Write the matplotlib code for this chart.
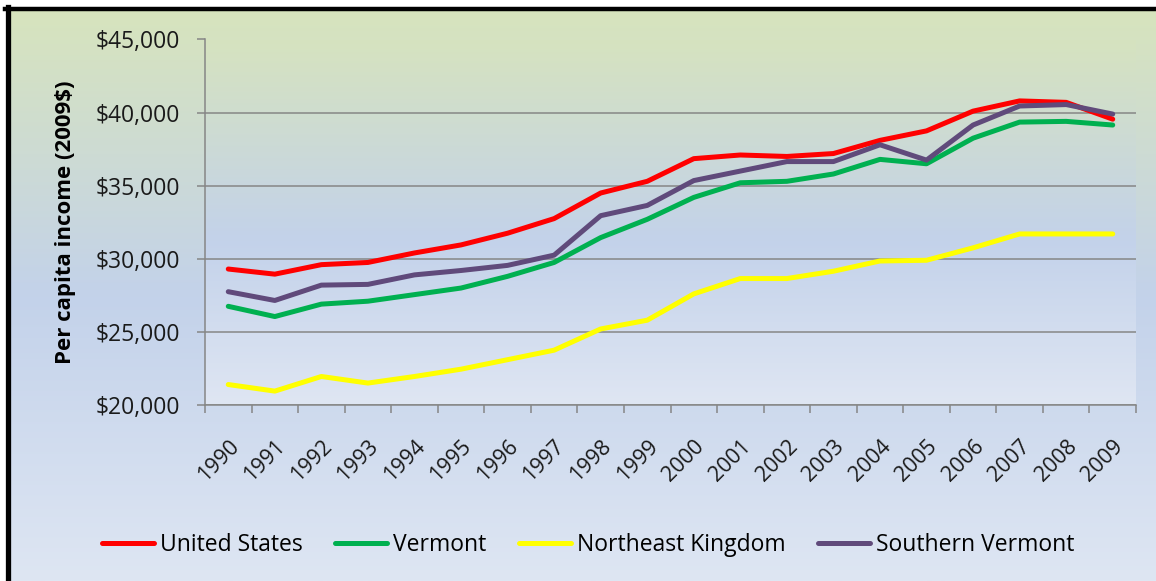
import numpy as np
import matplotlib.pyplot as plt
from matplotlib.colors import to_rgb
from matplotlib.lines import Line2D

years = [str(y) for y in range(1990, 2010)]
united_states = [29300, 28950, 29600, 29750, 30400, 30950, 31750, 32750, 34500, 35300,
                 36850, 37100, 37000, 37200, 38100, 38750, 40100, 40800, 40700, 39550]
vermont = [26750, 26050, 26900, 27100, 27550, 28000, 28800, 29750, 31450, 32700,
           34200, 35200, 35300, 35800, 36800, 36500, 38250, 39350, 39400, 39150]
northeast_kingdom = [21400, 20950, 21950, 21500, 21950, 22450, 23100, 23750, 25200, 25800,
                     27600, 28650, 28650, 29150, 29850, 29900, 30750, 31700, 31700, 31700]
southern_vermont = [27750, 27150, 28200, 28250, 28900, 29200, 29550, 30250, 32950, 33650,
                    35350, 36000, 36650, 36650, 37800, 36750, 39150, 40450, 40550, 39900]

series = [
    ('United States', united_states, '#ff0000'),
    ('Vermont', vermont, '#00b050'),
    ('Northeast Kingdom', northeast_kingdom, '#ffff00'),
    ('Southern Vermont', southern_vermont, '#604a7b'),
]

plt.rcParams['font.family'] = ['Open Sans', 'DejaVu Sans']


def gradient(stops, n=256):
    # stops: list of (position 0=top .. 1=bottom, colour)
    pos = [s[0] for s in stops]
    cols = np.array([to_rgb(s[1]) for s in stops])
    t = np.linspace(0, 1, n)
    img = np.stack([np.interp(t, pos, cols[:, k]) for k in range(3)], axis=-1)
    return img[:, None, :]


W, H = 1156, 581
fig = plt.figure(figsize=(W / 100, H / 100), dpi=100, facecolor='white')

# chart area background
x0, ytop = 10 / W, 1 - 11 / H
bg = fig.add_axes([x0, 0, 1 - x0, ytop], zorder=-10)
bg.imshow(gradient([(0, '#d7e4bd'), (0.5, '#c3d2ea'), (1, '#dee6f3')]),
          aspect='auto', extent=[0, 1, 0, 1])
bg.set_xlim(0, 1)
bg.set_ylim(0, 1)
bg.axis('off')

# black frame (top and left)
fig.add_artist(Line2D([5 / W, 1], [1 - 9 / H, 1 - 9 / H], color='black', lw=3.2))
fig.add_artist(Line2D([7.5 / W, 7.5 / W], [0, 1 - 7 / H], color='black', lw=3.8))

ax = fig.add_axes([205 / W, 1 - 405 / H, 931 / W, 365.5 / H])
ax.patch.set_alpha(0)
ax.imshow(gradient([(0, '#d6e3bf'), (0.55, '#c3d2ea'), (1, '#dfe6f3')]),
          aspect='auto', extent=[-0.5, 19.5, 20000, 45000], zorder=0)

x = np.arange(len(years))
for name, vals, col in series:
    ax.plot(x, vals, color=col, lw=3.6, label=name, zorder=3, solid_capstyle='round')

ax.set_xlim(-0.5, 19.5)
ax.set_ylim(20000, 45000)
ax.set_yticks(range(20000, 45001, 5000))
ax.set_yticklabels(['${:,}'.format(v) for v in range(20000, 45001, 5000)], fontsize=16.5, color='#1a1a1a')
ax.grid(axis='y', color='#868686', lw=1.1, zorder=1)
ax.set_xticks(x)
ax.set_xticklabels(years, rotation=45, ha='right', rotation_mode='anchor', fontsize=15.5, color='#1a1a1a')
ax.set_xticks(np.arange(-0.5, 20, 1), minor=True)
ax.tick_params(axis='x', which='major', length=0, pad=22)
ax.tick_params(axis='x', which='minor', length=6, color='#868686', width=1.1)
ax.tick_params(axis='y', length=6, color='#868686', width=1.1, pad=12)
for s in ['top', 'right']:
    ax.spines[s].set_visible(False)
for s in ['left', 'bottom']:
    ax.spines[s].set_color('#868686')
    ax.spines[s].set_linewidth(1.1)

ax.set_ylabel('Per capita income (2009$)', fontsize=16, fontweight='bold', labelpad=14)

fig.legend(loc='center', bbox_to_anchor=(588 / W, 1 - 545 / H), ncol=4, frameon=False,
           fontsize=16.5, handlelength=2.3, handletextpad=0.25, columnspacing=1.4)

fig.savefig('out.png', dpi=100)
